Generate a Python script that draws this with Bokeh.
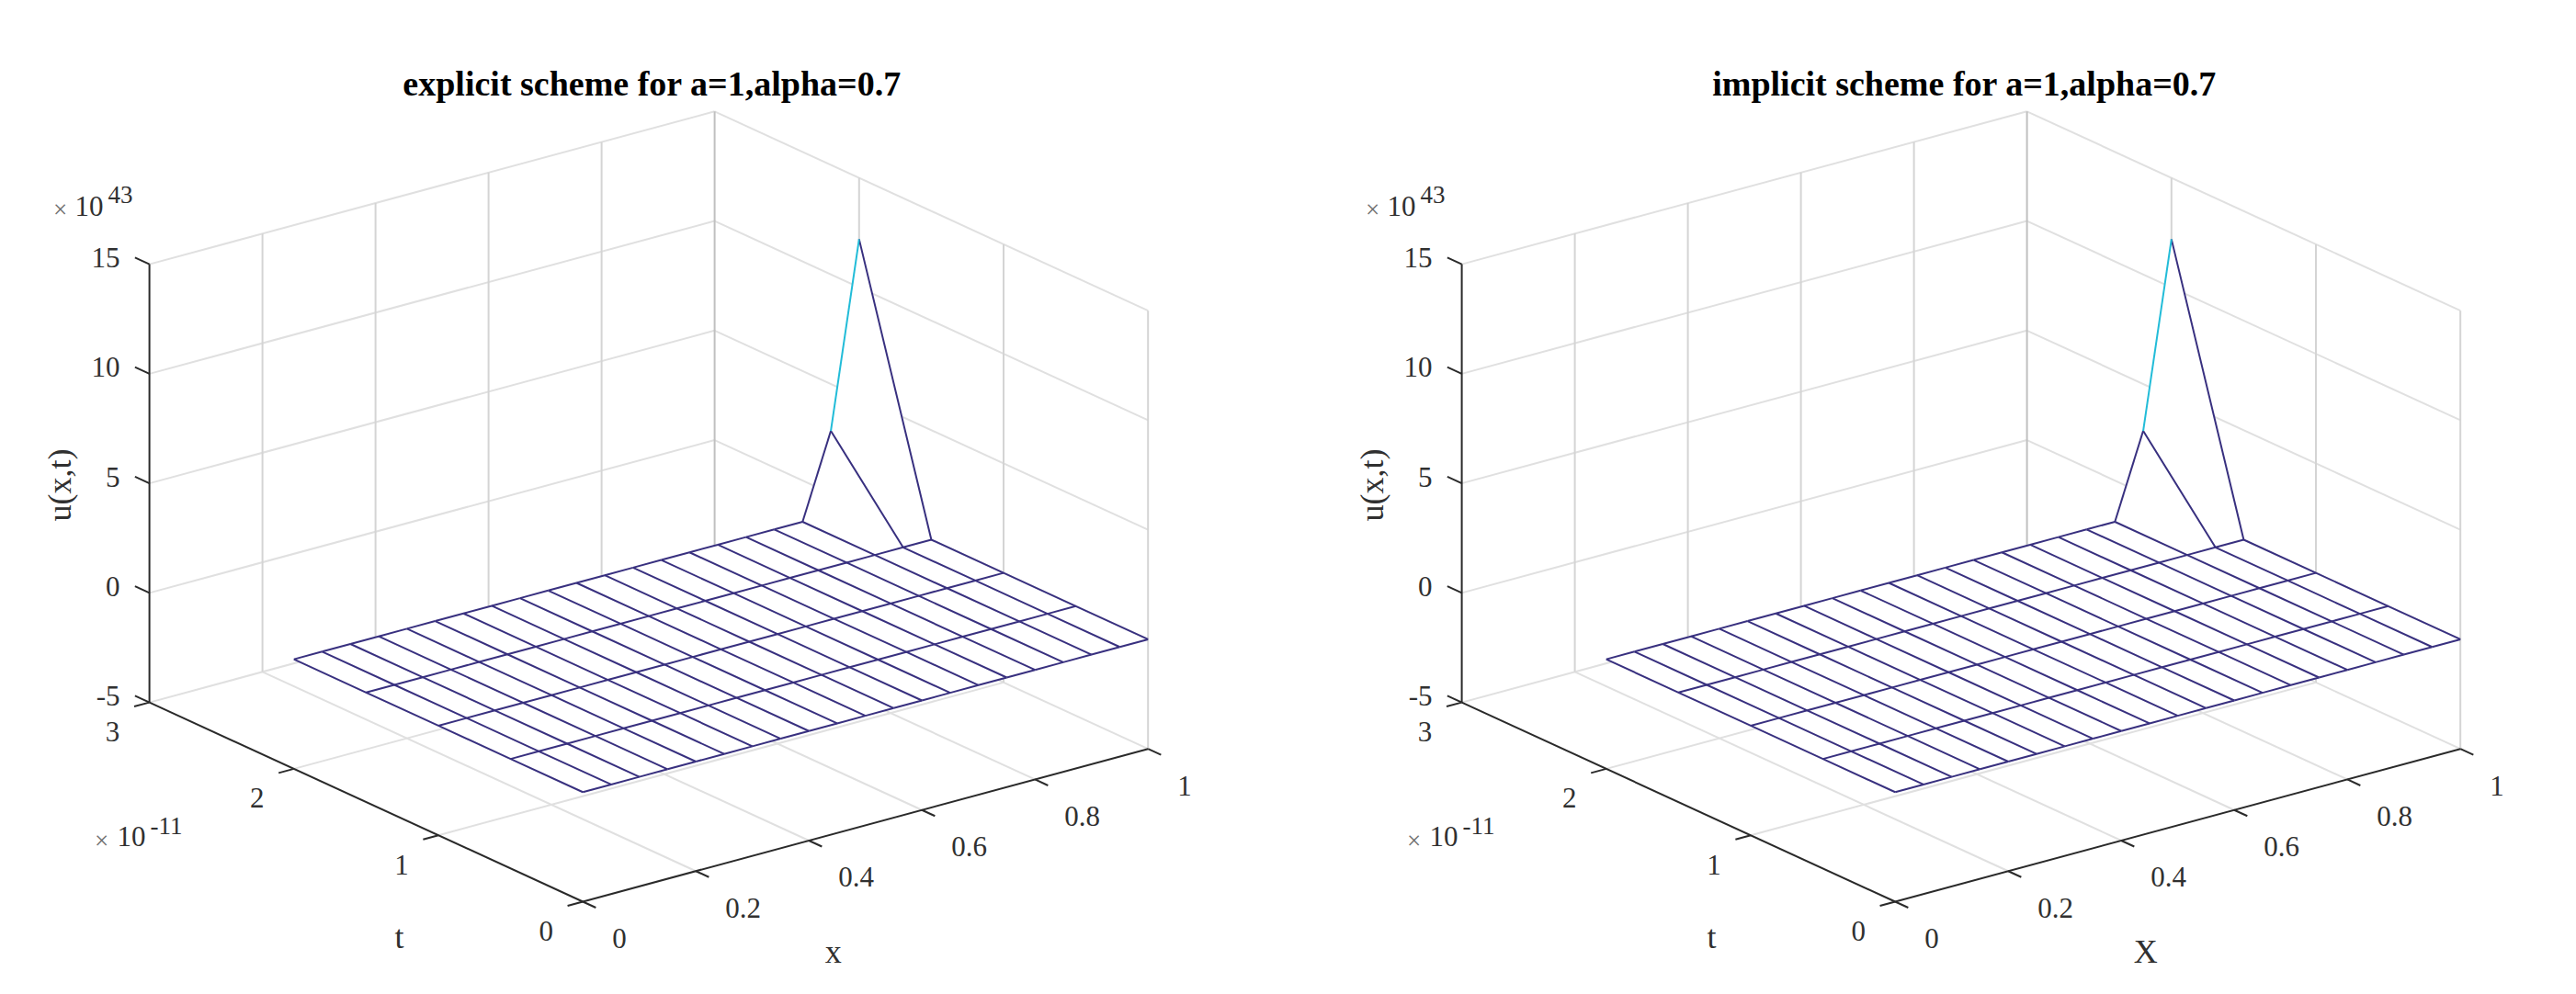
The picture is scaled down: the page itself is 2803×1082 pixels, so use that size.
from math import pi

from bokeh.embed import file_html
from bokeh.layouts import row
from bokeh.models import Range1d
from bokeh.plotting import figure
from bokeh.resources import INLINE

# surface values, t in units of 1e-11 and u in units of 1e43
x_nodes = [0, 0.05, 0.1, 0.15, 0.2, 0.25, 0.3, 0.35, 0.4, 0.45, 0.5,
           0.55, 0.6, 0.65, 0.7, 0.75, 0.8, 0.85, 0.9, 0.95, 1]
t_nodes = [0, 0.5, 1, 1.5, 2]
u_t00 = [0, 0, 0, 0, 0, 0, 0, 0, 0, 0, 0, 0, 0, 0, 0, 0, 0, 0, 0, 0, 0]
u_t05 = [0, 0, 0, 0, 0, 0, 0, 0, 0, 0, 0, 0, 0, 0, 0, 0, 0, 0, 0, 0, 0]
u_t10 = [0, 0, 0, 0, 0, 0, 0, 0, 0, 0, 0, 0, 0, 0, 0, 0, 0, 0, 0, 0, 0]
u_t15 = [0, 0, 0, 0, 0, 0, 0, 0, 0, 0, 0, 0, 0, 0, 0, 0, 0, 0, 0, 0, 0]
u_t20 = [0, 0, 0, 0, 0, 0, 0, 0, 0, 0, 0, 0, 0, 0, 0, 0, 0, 0, 0, 3.8, 12.2]
u_rows = [u_t00, u_t05, u_t10, u_t15, u_t20]

x_ticks = [0, 0.2, 0.4, 0.6, 0.8, 1]
x_tick_labels = ["0", "0.2", "0.4", "0.6", "0.8", "1"]
t_ticks = [0, 1, 2, 3]
t_tick_labels = ["0", "1", "2", "3"]
u_ticks = [-5, 0, 5, 10, 15]
u_tick_labels = ["-5", "0", "5", "10", "15"]

# view of the 3d box on the page (orthographic, so just three axis vectors)
ORIGIN = (641.7, 989.0)
EX = (615.0, -166.3)
ET = (-157.2, -72.3)
EU = (0.0, -23.85)
U_MIN = -5

FONT = "Liberation Sans"
TEXT = "#303030"
AXIS = "#2a2a2a"
GRID = "#e0e0e0"
GRID_V = "#d4d4d4"
MESH = "#38307f"
CYAN = "#22bcd8"


def proj(x, t, u):
    sx = ORIGIN[0] + x * EX[0] + t * ET[0] + (u - U_MIN) * EU[0]
    sy = ORIGIN[1] + x * EX[1] + t * ET[1] + (u - U_MIN) * EU[1]
    return sx, sy


def seg(p, a, b, color, width):
    pa, pb = proj(*a), proj(*b)
    p.line([pa[0], pb[0]], [pa[1], pb[1]], line_color=color, line_width=width)


def label(p, at, text, dx=0, dy=0, size=31, color=TEXT, align="center", **kw):
    sx, sy = proj(*at)
    p.text([sx], [sy], text=[text], x_offset=dx, y_offset=dy,
           text_font=FONT, text_font_size=f"{size}px", text_color=color,
           text_align=align, text_baseline="middle", **kw)


def make_panel(title, xlabel, left, width):
    p = figure(width=width, height=1066, output_backend="svg", toolbar_location=None,
               x_range=Range1d(left, left + width), y_range=Range1d(1074, 8),
               min_border=0, outline_line_color=None)
    p.grid.visible = False
    p.xaxis.visible = False
    p.yaxis.visible = False

    t_top, u_top = t_ticks[-1], u_ticks[-1]

    # box grid
    for u in u_ticks:
        seg(p, (1, 0, u), (1, t_top, u), GRID, 2)
        seg(p, (0, t_top, u), (1, t_top, u), GRID, 2)
    for x in x_ticks[1:]:
        seg(p, (x, t_top, U_MIN), (x, t_top, u_top), "#c0c0c0" if x == 1 else GRID_V, 2)
        if x < 1:
            seg(p, (x, 0, U_MIN), (x, t_top, U_MIN), GRID, 2)
    for t in t_ticks[:-1]:
        seg(p, (1, t, U_MIN), (1, t, u_top), GRID_V, 2)
        if t > 0:
            seg(p, (0, t, U_MIN), (1, t, U_MIN), GRID, 2)

    # white faces hide whatever is behind the mesh
    xs, ys = [], []
    for j in range(len(t_nodes) - 1):
        for i in range(len(x_nodes) - 1):
            corners = [(i, j), (i + 1, j), (i + 1, j + 1), (i, j + 1)]
            pts = [proj(x_nodes[a], t_nodes[b], u_rows[b][a]) for a, b in corners]
            xs.append([q[0] for q in pts])
            ys.append([q[1] for q in pts])
    p.patches(xs, ys, fill_color="white", line_color="white", line_width=1)

    # mesh lines
    for i, x in enumerate(x_nodes):
        pts = [proj(x, t, u_rows[j][i]) for j, t in enumerate(t_nodes)]
        p.line([q[0] for q in pts], [q[1] for q in pts], line_color=MESH, line_width=2)
    for j, t in enumerate(t_nodes):
        pts = [proj(x, t, u) for x, u in zip(x_nodes, u_rows[j])]
        for a, b, ua in zip(pts[:-1], pts[1:], u_rows[j][:-1]):
            p.line([a[0], b[0]], [a[1], b[1]], line_color=CYAN if ua > 1 else MESH,
                   line_width=2)

    # axes and ticks
    seg(p, (0, t_top, U_MIN), (0, t_top, u_top), AXIS, 2)
    seg(p, (0, 0, U_MIN), (0, t_top, U_MIN), AXIS, 2)
    seg(p, (0, 0, U_MIN), (1, 0, U_MIN), AXIS, 2)
    for u in u_ticks:
        seg(p, (0, t_top, u), (0, t_top + 0.1, u), AXIS, 2)
    for t in t_ticks:
        seg(p, (0, t, U_MIN), (-0.027, t, U_MIN), AXIS, 2)
    for x in x_ticks:
        seg(p, (x, 0, U_MIN), (x, -0.09, U_MIN), AXIS, 2)

    # tick labels
    for u, s in zip(u_ticks, u_tick_labels):
        label(p, (0, t_top, u), s, dx=-32, dy=-7, align="right")
    for t, s in zip(t_ticks, t_tick_labels):
        label(p, (0, t, U_MIN), s, dx=-40, dy=32)
    for x, s in zip(x_ticks, x_tick_labels):
        label(p, (x, 0, U_MIN), s, dx=32, dy=40, align="left")

    # exponents
    label(p, (0, t_top, u_top), "\u00d7", dx=-97, dy=-60, size=27, color="#707070")
    label(p, (0, t_top, u_top), "10", dx=-81, dy=-63, align="left")
    label(p, (0, t_top, u_top), "43", dx=-45, dy=-76, size=27, align="left")
    label(p, (0, t_top, U_MIN), "\u00d7", dx=-52, dy=150, size=27, color="#707070")
    label(p, (0, t_top, U_MIN), "10", dx=-35, dy=146, align="left")
    label(p, (0, t_top, U_MIN), "-11", dx=1, dy=134, size=27, align="left")

    # axis labels and title
    label(p, (0, t_top, 5), "u(x,t)", dx=-98, dy=2, size=36, angle=pi / 2)
    label(p, (0, 1.5, U_MIN), "t", dx=36, dy=147, size=36)
    label(p, (0.5, 0, U_MIN), xlabel, dx=-35, dy=138, size=36)
    label(p, (1, t_top, u_top), title, dx=-68, dy=-30, size=38, color="black",
          text_font_style="bold")
    return p


left = make_panel("explicit scheme for a=1,alpha=0.7", "x", 8, 1392)
right = make_panel("implicit scheme for a=1,alpha=0.7", "X", -28, 1395)

page = row(left, right, spacing=0)
open("out.html", "w").write(file_html(page, INLINE))
